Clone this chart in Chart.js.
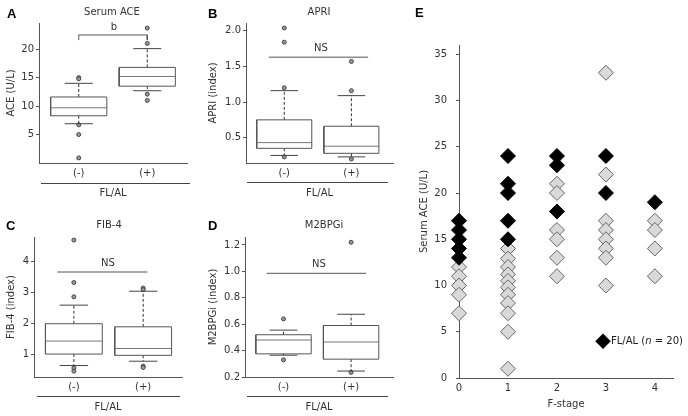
<!DOCTYPE html>
<html><head><meta charset="utf-8">
<script src="https://cdn.jsdelivr.net/npm/chart.js@4"></script>
<style>
body{margin:0;width:688px;height:416px;background:#fff;position:relative;overflow:hidden;font-family:'DejaVu Sans',sans-serif;color:#333}
canvas{position:absolute}
.t{position:absolute;font-size:10px;white-space:nowrap;transform:translate(-50%,-50%);line-height:1}
.L{position:absolute;font-family:'Liberation Sans',Arial,sans-serif;font-weight:bold;font-size:13px;color:#000;transform:translate(0,-50%);line-height:1}
.g{position:absolute;height:0;border-top:1px solid #444}
.dia{position:absolute;width:10.6px;height:10.6px;background:#000;transform:translate(-50%,-50%) rotate(45deg)}
</style></head><body>
<canvas id="cA" width="200" height="205" style="left:0;top:0"></canvas>
<canvas id="cB" width="200" height="205" style="left:205px;top:0"></canvas>
<canvas id="cC" width="200" height="211" style="left:0;top:205px"></canvas>
<canvas id="cD" width="200" height="211" style="left:205px;top:205px"></canvas>
<canvas id="cE" width="278" height="386" style="left:410px;top:30px"></canvas>

<div class="L" style="left:7px;top:13px">A</div>
<div class="L" style="left:208px;top:13px">B</div>
<div class="L" style="left:6px;top:225px">C</div>
<div class="L" style="left:208px;top:225px">D</div>
<div class="L" style="left:415px;top:12px">E</div>

<div class="t" style="left:112px;top:11.5px">Serum ACE</div>
<div class="t" style="left:319px;top:11.5px">APRI</div>
<div class="t" style="left:109px;top:225px">FIB-4</div>
<div class="t" style="left:324px;top:225px">M2BPGi</div>

<div class="t" style="left:114px;top:27px">b</div>
<div class="t" style="left:321px;top:48px">NS</div>
<div class="t" style="left:108px;top:263px">NS</div>
<div class="t" style="left:319px;top:264px">NS</div>

<div class="g" style="left:41px;top:183px;width:149px"></div>
<div class="g" style="left:247px;top:182px;width:141px"></div>
<div class="g" style="left:37px;top:396px;width:143px"></div>
<div class="g" style="left:247px;top:396px;width:141px"></div>

<div class="dia" style="left:603px;top:341px"></div>
<div class="t" style="left:611px;top:341px;transform:translate(0,-50%);color:#222">FL/AL (<i>n</i> = 20)</div>

<script>
// ---------- data ----------
const groups = ['(-)', '(+)'];

// Panel A: Serum ACE (U/L)
const aceQ1 = [8.3, 13.5];
const aceMedian = [9.7, 15.2];
const aceQ3 = [11.6, 16.8];
const aceLow = [6.9, 12.7];
const aceHigh = [14.0, 20.1];
const aceOutliers = [[15.0, 14.8, 6.7, 5.0, 0.9], [23.7, 21.0, 12.1, 11.0]];
const aceTicks = [5, 10, 15, 20];

// Panel B: APRI (index)
const apriQ1 = [0.35, 0.28];
const apriMedian = [0.43, 0.38];
const apriQ3 = [0.75, 0.66];
const apriLow = [0.25, 0.23];
const apriHigh = [1.16, 1.09];
const apriOutliers = [[2.04, 1.84, 1.2, 0.23], [1.57, 1.16, 0.2]];
const apriTicks = [0.5, 1.0, 1.5, 2.0];

// Panel C: FIB-4 (index)
const fibQ1 = [1.0, 0.96];
const fibMedian = [1.42, 1.18];
const fibQ3 = [1.98, 1.88];
const fibLow = [0.63, 0.77];
const fibHigh = [2.58, 3.03];
const fibOutliers = [[4.68, 3.31, 2.85, 0.55, 0.45], [3.13, 3.08, 0.61, 0.57]];
const fibTicks = [1, 2, 3, 4];

// Panel D: M2BPGi (index)
const m2Q1 = [0.375, 0.335];
const m2Median = [0.48, 0.465];
const m2Q3 = [0.52, 0.59];
const m2Low = [0.365, 0.245];
const m2High = [0.555, 0.675];
const m2Outliers = [[0.64, 0.33], [1.22, 0.235]];
const m2Ticks = [0.2, 0.4, 0.6, 0.8, 1.0, 1.2];

// Panel E: Serum ACE by F-stage
const fStages = [0, 1, 2, 3, 4];
const flalPositive = [[17, 16, 15, 14, 13], [24, 21, 20, 17, 15], [24, 23, 18], [24, 20], [19]];
const flalNegative = [[12, 11, 10, 9, 7], [14, 12.9, 12, 11.2, 10.5, 9.8, 9, 8.1, 7, 5, 1], [21, 20, 16, 15, 13, 11], [33, 22, 17, 16, 15, 14, 13, 10], [17, 16, 14, 11]];
const eTicks = [0, 5, 10, 15, 20, 25, 30, 35];

// ---------- helpers ----------
Chart.defaults.font.family = "'DejaVu Sans', sans-serif";
Chart.defaults.font.size = 10;
Chart.defaults.color = '#333';

function seg(data, color, dash) {
  return {data, showLine: true, borderColor: color, borderWidth: 1, borderDash: dash || [],
          pointRadius: 0, pointHoverRadius: 0, fill: false, tension: 0, clip: false};
}
function boxDatasets(q1, med, q3, lo, hi, outs) {
  const ds = [];
  const hw = 0.41, cw = 0.205;
  q1.forEach((_, i) => {
    ds.push(seg([{x:i-hw,y:q1[i]},{x:i+hw,y:q1[i]},{x:i+hw,y:q3[i]},{x:i-hw,y:q3[i]},{x:i-hw,y:q1[i]}], '#555'));
    ds.push(seg([{x:i-hw,y:med[i]},{x:i+hw,y:med[i]}], '#777'));
    ds.push(seg([{x:i,y:q3[i]},{x:i,y:hi[i]}], '#333', [3, 2]));
    ds.push(seg([{x:i,y:q1[i]},{x:i,y:lo[i]}], '#333', [3, 2]));
    ds.push(seg([{x:i-cw,y:hi[i]},{x:i+cw,y:hi[i]}], '#444'));
    ds.push(seg([{x:i-cw,y:lo[i]},{x:i+cw,y:lo[i]}], '#444'));
    ds.push({data: outs[i].map(v => ({x: i, y: v})), showLine: false, pointRadius: 2, pointStyle: 'circle',
             pointBackgroundColor: '#999', pointBorderColor: '#444', pointBorderWidth: 1, clip: false});
  });
  return ds;
}
function boxChart(id, c) {
  new Chart(document.getElementById(id), {
    type: 'scatter',
    data: {datasets: c.datasets},
    options: {
      responsive: false, animation: false, devicePixelRatio: 1,
      layout: {padding: {left: 0, top: c.padTop, right: c.padRight, bottom: 0}},
      plugins: {legend: {display: false}, tooltip: {enabled: false}},
      scales: {
        x: {type: 'linear', min: c.xMin, max: c.xMax,
            afterBuildTicks: s => { s.ticks = [0, 1].map(v => ({value: v})); },
            afterFit: s => { s.height = c.xH; },
            ticks: {callback: v => groups[v], padding: 4, color: '#333', maxRotation: 0},
            grid: {display: false, drawTicks: false, tickLength: 0}, border: {display: true, color: '#555'},
            title: {display: true, text: 'FL/AL', color: '#333', padding: {top: 0, bottom: c.xTitlePad}}},
        y: {type: 'linear', min: c.yMin, max: c.yMax,
            afterBuildTicks: s => { s.ticks = c.ticks.map(v => ({value: v})); },
            afterFit: s => { s.width = c.yW; },
            ticks: {callback: v => v.toFixed(c.dec), padding: 2, color: '#333'},
            grid: {display: true, drawOnChartArea: false, drawTicks: true, tickLength: 3, color: '#555'},
            border: {display: true, color: '#555'},
            title: {display: true, text: c.yTitle, color: '#333', padding: {top: c.yTitlePad, bottom: 0}}}
      }
    }
  });
}

// ---------- panel A ----------
const dsA = boxDatasets(aceQ1, aceMedian, aceQ3, aceLow, aceHigh, aceOutliers);
dsA.push(seg([{x:0,y:21.6},{x:0,y:22.5},{x:1,y:22.5},{x:1,y:21.6}], '#555'));
boxChart('cA', {datasets: dsA, padTop: 23, padRight: 13, xH: 42, yW: 39, xMin: -0.58, xMax: 1.58,
  yMin: 0, yMax: 24.6, ticks: aceTicks, dec: 0, yTitle: 'ACE (U/L)', yTitlePad: 5.5, xTitlePad: 6});

// ---------- panel B ----------
const dsB = boxDatasets(apriQ1, apriMedian, apriQ3, apriLow, apriHigh, apriOutliers);
dsB.push(seg([{x:-0.23,y:1.63},{x:1.25,y:1.63}], '#555'));
boxChart('cB', {datasets: dsB, padTop: 23, padRight: 12, xH: 42, yW: 41, xMin: -0.57, xMax: 1.62,
  yMin: 0.144, yMax: 2.11, ticks: apriTicks, dec: 1, yTitle: 'APRI (index)', yTitlePad: 2.5, xTitlePad: 6});

// ---------- panel C ----------
const dsC = boxDatasets(fibQ1, fibMedian, fibQ3, fibLow, fibHigh, fibOutliers);
dsC.push(seg([{x:-0.24,y:3.65},{x:1.06,y:3.65}], '#555'));
boxChart('cC', {datasets: dsC, padTop: 32, padRight: 18, xH: 39, yW: 34, xMin: -0.575, xMax: 1.56,
  yMin: 0.26, yMax: 4.78, ticks: fibTicks, dec: 0, yTitle: 'FIB-4 (index)', yTitlePad: 5.5, xTitlePad: 2.5});

// ---------- panel D ----------
const dsD = boxDatasets(m2Q1, m2Median, m2Q3, m2Low, m2High, m2Outliers);
dsD.push(seg([{x:-0.25,y:0.985},{x:1.22,y:0.985}], '#555'));
boxChart('cD', {datasets: dsD, padTop: 32, padRight: 12, xH: 39, yW: 40, xMin: -0.57, xMax: 1.62,
  yMin: 0.2, yMax: 1.26, ticks: m2Ticks, dec: 1, yTitle: 'M2BPGi (index)', yTitlePad: 2.5, xTitlePad: 2.5});

// ---------- panel E ----------
const toPts = arr => arr.flatMap((vals, i) => vals.map(v => ({x: fStages[i], y: v})));
new Chart(document.getElementById('cE'), {
  type: 'scatter',
  data: {datasets: [
    {label: 'FL/AL (n = 20)', data: toPts(flalPositive), pointStyle: 'rectRot', pointRadius: 7.5,
     backgroundColor: '#000', borderColor: '#000', borderWidth: 1, clip: false},
    {label: 'FL/AL (-)', data: toPts(flalNegative), pointStyle: 'rectRot', pointRadius: 7.5,
     backgroundColor: '#d9d9d9', borderColor: '#666', borderWidth: 1, clip: false}
  ]},
  options: {
    responsive: false, animation: false, devicePixelRatio: 1,
    layout: {padding: {left: 0, top: 10, right: 15, bottom: 0}},
    plugins: {legend: {display: false}, tooltip: {enabled: false}},
    scales: {
      x: {type: 'linear', min: 0, max: 4.37,
          afterBuildTicks: s => { s.ticks = fStages.map(v => ({value: v})); },
          afterFit: s => { s.height = 38; },
          ticks: {padding: 4, color: '#333', maxRotation: 0},
          grid: {display: false, drawTicks: false, tickLength: 0}, border: {display: true, color: '#555'},
          title: {display: true, text: 'F-stage', color: '#333', padding: {top: 0, bottom: 5.5}}},
      y: {type: 'linear', min: 0, max: 36,
          afterBuildTicks: s => { s.ticks = eTicks.map(v => ({value: v})); },
          afterFit: s => { s.width = 49; },
          ticks: {padding: 9, color: '#333'},
          grid: {display: true, drawOnChartArea: false, drawTicks: true, tickLength: 3, color: '#555'},
          border: {display: true, color: '#555'},
          title: {display: true, text: 'Serum ACE (U/L)', color: '#333', padding: {top: 8, bottom: 0}}}
    }
  }
});
</script>
</body></html>
